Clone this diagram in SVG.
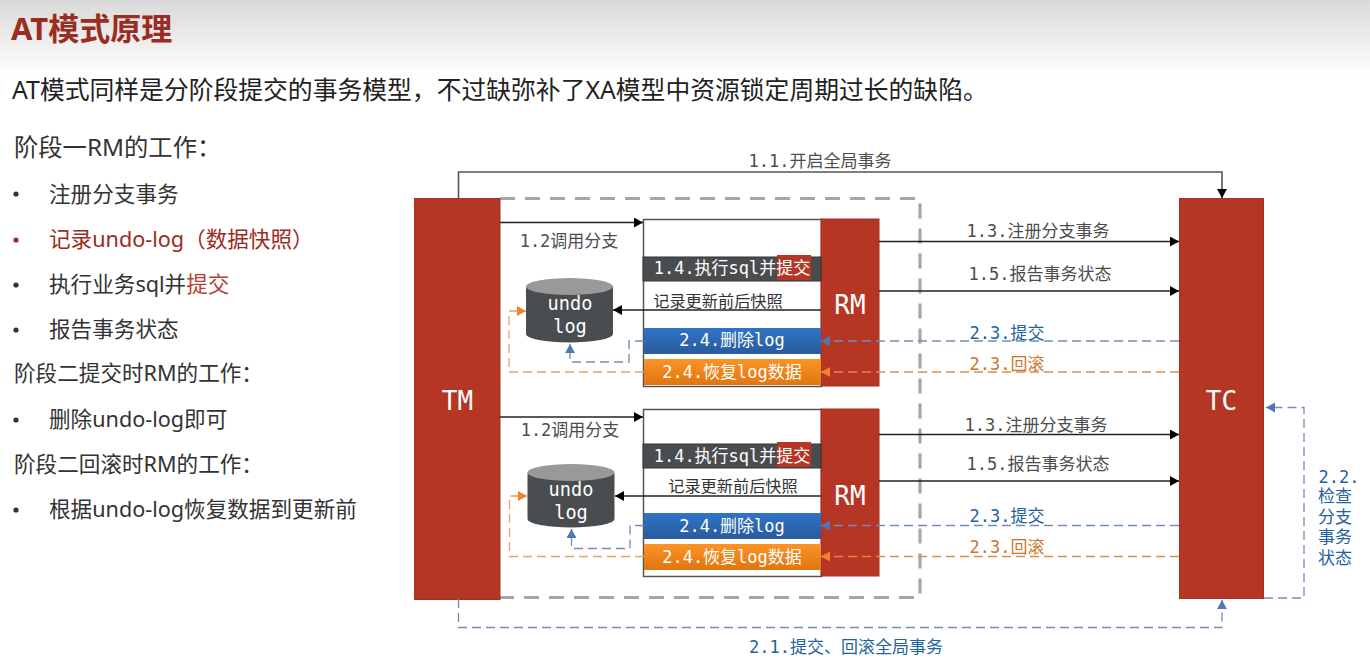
<svg xmlns="http://www.w3.org/2000/svg" width="1370" height="659" viewBox="0 0 1370 659">
<style>
text{font-family:"Noto Sans","Noto Sans CJK SC",sans-serif}
.m{font-family:"DejaVu Sans Mono","Noto Sans CJK SC",monospace;font-size:17px;text-anchor:middle;fill:#4d4d4d}
.s{font-size:16.2px}
.k{fill:#333}.w{fill:#fff}.b{fill:#1f639e}.o{fill:#c9772c}
.l{font-size:21.6px;fill:#333}.h{font-size:24.3px;fill:#333}
.big{font-size:26px;fill:#fff;font-family:"DejaVu Sans Mono",monospace;text-anchor:middle}
.u{font-size:18.6px;fill:#fff;font-family:"DejaVu Sans Mono",monospace;text-anchor:middle}
.red{fill:#b53624;stroke:#a5301f;stroke-width:1}
.dark{fill:#4a4d4f}
.line{fill:none;stroke:#222;stroke-width:1.4}
.gl{fill:none;stroke:#555;stroke-width:1.6}
.db{fill:none;stroke:#6f8db5;stroke-width:1.3;stroke-dasharray:9 5}
.dd{fill:none;stroke:#f0a060;stroke-width:1.3;stroke-dasharray:9 5}
.dn{fill:none;stroke:#e08a45;stroke-width:1.3;stroke-dasharray:9 5}
.box{fill:#fff;stroke:#555;stroke-width:1.5}
</style>
<defs>
<linearGradient id="bg" x1="0" y1="0" x2="0" y2="1"><stop offset="0" stop-color="#d9d9d9"/><stop offset="1" stop-color="#fff"/></linearGradient>
<linearGradient id="gb" x1="0" y1="0" x2="0" y2="1"><stop offset="0" stop-color="#2f74c8"/><stop offset="1" stop-color="#2a5a9c"/></linearGradient>
<linearGradient id="go" x1="0" y1="0" x2="0" y2="1"><stop offset="0" stop-color="#fb9327"/><stop offset="1" stop-color="#e0760f"/></linearGradient>
<marker id="ak" markerUnits="userSpaceOnUse" markerWidth="10" markerHeight="10" refX="9" refY="5" orient="auto"><path d="M0 0L9 5L0 10Z" fill="#000"/></marker>
<marker id="ab" markerUnits="userSpaceOnUse" markerWidth="10" markerHeight="10" refX="9" refY="5" orient="auto"><path d="M0 0L9 5L0 10Z" fill="#4f78b3"/></marker>
<marker id="ao" markerUnits="userSpaceOnUse" markerWidth="10" markerHeight="10" refX="9" refY="5" orient="auto"><path d="M0 0L9 5L0 10Z" fill="#f0822a"/></marker>
</defs>
<rect width="1370" height="659" fill="#fff"/>
<rect width="1370" height="76" fill="url(#bg)"/>
<g id="text-panel">
<text x="11" y="40" font-size="31" font-weight="700" fill="#9b2c22">AT模式原理</text>
<text x="12" y="99" font-size="24.8" fill="#222">AT模式同样是分阶段提交的事务模型&#xFF0C;不过缺弥补了XA模型中资源锁定周期过长的缺陷。</text>
<text x="14" y="156" class="h">阶段一RM的工作&#xFF1A;</text>
<circle cx="16" cy="194" r="2.6" fill="#333"/><text x="49" y="202" class="l">注册分支事务</text>
<circle cx="16" cy="240" r="2.6" fill="#9b2c22"/><text x="49" y="247" class="l" style="fill:#9b2c22">记录undo-log&#xFF08;数据快照&#xFF09;</text>
<circle cx="16" cy="285" r="2.6" fill="#333"/><text x="49" y="292" class="l">执行业务sql并<tspan fill="#b5402f">提交</tspan></text>
<circle cx="16" cy="330" r="2.6" fill="#333"/><text x="49" y="337" class="l">报告事务状态</text>
<text x="14" y="381" class="l">阶段二提交时RM的工作&#xFF1A;</text>
<circle cx="16" cy="420" r="2.6" fill="#333"/><text x="49" y="427" class="l">删除undo-log即可</text>
<text x="14" y="472" class="l">阶段二回滚时RM的工作&#xFF1A;</text>
<circle cx="16" cy="510" r="2.6" fill="#333"/><text x="49" y="517" class="l">根据undo-log恢复数据到更新前</text>
</g>
<path id="boundary" d="M500 198.500H920V597.500H500" fill="none" stroke="#a6a6a6" stroke-width="3.2" stroke-dasharray="15 10"/>
<g id="rm1">
<rect x="643.500" y="219.500" width="178" height="167" class="box"/>
<rect x="821" y="219" width="58" height="167" class="red"/>
<rect x="643" y="257" width="178" height="24" class="dark" stroke="#333"/>
<rect x="777" y="255" width="34" height="25" fill="#b53624"/>
<text x="732" y="274" class="m w">1.4.执行sql并提交</text>
<text x="718" y="307" class="m k s">记录更新前后快照</text>
<rect x="644" y="328" width="177" height="26" fill="url(#gb)"/>
<text x="732" y="346" class="m w">2.4.删除log</text>
<rect x="644" y="359" width="177" height="26" fill="url(#go)"/>
<text x="732" y="378" class="m w">2.4.恢复log数据</text>
<text x="850" y="314" class="big">RM</text>
</g>
<g id="rm2">
<rect x="643.500" y="409.500" width="178" height="167" class="box"/>
<rect x="821" y="409" width="58" height="167" class="red"/>
<rect x="643" y="444" width="178" height="24" class="dark" stroke="#333"/>
<rect x="777" y="442" width="34" height="25" fill="#b53624"/>
<text x="732" y="462" class="m w">1.4.执行sql并提交</text>
<text x="733" y="492" class="m k s">记录更新前后快照</text>
<rect x="644" y="513" width="177" height="26" fill="url(#gb)"/>
<text x="732" y="532" class="m w">2.4.删除log</text>
<rect x="644" y="544" width="177" height="26" fill="url(#go)"/>
<text x="732" y="563" class="m w">2.4.恢复log数据</text>
<text x="850" y="505" class="big">RM</text>
</g>
<g id="undo1">
<path d="M526 287V334A43.500 8.500 0 0 0 613 334V287Z" class="dark"/>
<ellipse cx="569.500" cy="286.500" rx="43.500" ry="8.500" fill="#999"/>
<text x="570" y="310" class="u">undo</text>
<text x="570" y="333" class="u">log</text>
</g>
<g id="undo2">
<path d="M527.500 473V519A43.500 8.500 0 0 0 614.500 519V473Z" class="dark"/>
<ellipse cx="571" cy="472.500" rx="43.500" ry="8.500" fill="#999"/>
<text x="571" y="496" class="u">undo</text>
<text x="571" y="519" class="u">log</text>
</g>
<g id="tm"><rect x="414.500" y="198.500" width="85.500" height="401" class="red"/>
<text x="457.500" y="410" class="big">TM</text></g>
<g id="tc"><rect x="1179.500" y="198.500" width="84" height="400" class="red"/>
<text x="1221.500" y="410" class="big">TC</text></g>
<g id="connectors">
<path d="M458.500 198V172H1222V198" class="gl" marker-end="url(#ak)"/>
<path d="M500 222.500H643" class="line" marker-end="url(#ak)"/>
<path d="M500 417H643" class="line" marker-end="url(#ak)"/>
<path d="M821 310H613" class="line" marker-end="url(#ak)"/>
<path d="M821 496H615" class="line" marker-end="url(#ak)"/>
<path d="M879 241.500H1179" class="line" marker-end="url(#ak)"/>
<path d="M879 291H1179" class="line" marker-end="url(#ak)"/>
<path d="M879 434.500H1179" class="line" marker-end="url(#ak)"/>
<path d="M879 481H1179" class="line" marker-end="url(#ak)"/>
<path d="M1179 341H821" class="db" marker-end="url(#ab)"/>
<path d="M1179 372H821" class="dn" marker-end="url(#ao)"/>
<path d="M1179 525.500H821" class="db" marker-end="url(#ab)"/>
<path d="M1179 556.500H821" class="dn" marker-end="url(#ao)"/>
<path d="M644 341H629V362H570V344" class="db" marker-end="url(#ab)"/>
<path d="M644 372H509V311H526" class="dd" marker-end="url(#ao)"/>
<path d="M644 525.500H630V548.500H571.500V529" class="db" marker-end="url(#ab)"/>
<path d="M644 556.500H509.500V496H527" class="dd" marker-end="url(#ao)"/>
<path d="M458.500 599V627.500H1222V600" class="db" marker-end="url(#ab)"/>
<path d="M1264 598H1304V407.500H1266" class="db" marker-end="url(#ab)"/>
</g>
<g id="labels">
<text x="820" y="167" class="m">1.1.开启全局事务</text>
<text x="569" y="247" class="m">1.2调用分支</text>
<text x="570" y="436" class="m">1.2调用分支</text>
<text x="1038" y="237" class="m">1.3.注册分支事务</text>
<text x="1040" y="280" class="m">1.5.报告事务状态</text>
<text x="1036" y="431" class="m">1.3.注册分支事务</text>
<text x="1038" y="470" class="m">1.5.报告事务状态</text>
<text x="1007" y="339" class="m b">2.3.提交</text>
<text x="1007" y="370" class="m o">2.3.回滚</text>
<text x="1007" y="522" class="m b">2.3.提交</text>
<text x="1007" y="553" class="m o">2.3.回滚</text>
<text x="846" y="653" class="m b">2.1.提交、回滚全局事务</text>
<text x="1339" y="483" class="m b">2.2.</text>
<text x="1335" y="502" class="m b">检查</text>
<text x="1335" y="523" class="m b">分支</text>
<text x="1335" y="543" class="m b">事务</text>
<text x="1335" y="564" class="m b">状态</text>
</g>
</svg>
